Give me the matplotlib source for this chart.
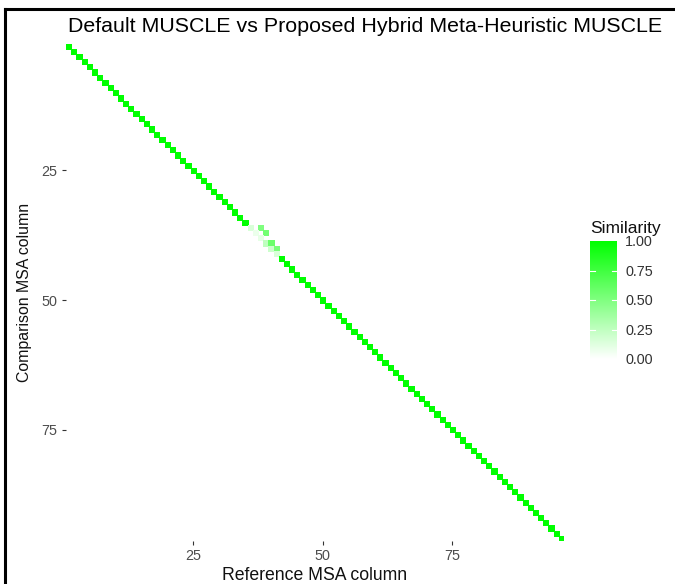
import numpy as np
import matplotlib
matplotlib.use("Agg")
import matplotlib.pyplot as plt
from matplotlib.colors import LinearSegmentedColormap
from matplotlib.lines import Line2D

plt.rcParams['font.family'] = ['Liberation Sans', 'DejaVu Sans']

# alignment columns: every reference column maps onto the same comparison column
n_cols = 96
ref_col = np.arange(1, n_cols + 1)
comp_col = np.arange(1, n_cols + 1)
diag_sim = np.ones(n_cols)

# columns where the two alignments disagree
weak_cols = [36, 37, 38, 39, 40, 41]
weak_sim = [0.15, 0.08, 0.10, 0.25, 0.20, 0.15]

# shifted matches (reference column, comparison column, similarity)
shift_ref = [38, 39, 40, 41]
shift_comp = [36, 37, 39, 40]
shift_sim = [0.50, 0.55, 0.58, 0.52]

grid = np.full((n_cols, n_cols), np.nan)
for c, s in zip(weak_cols, weak_sim):
    diag_sim[c - 1] = s
grid[comp_col - 1, ref_col - 1] = diag_sim
for r, c, s in zip(shift_ref, shift_comp, shift_sim):
    grid[c - 1, r - 1] = s

cmap = LinearSegmentedColormap.from_list('sim', ['#FFFFFF', '#00FF00'])

fig = plt.figure(figsize=(6.75, 5.84), dpi=100)
ax = fig.add_axes([66 / 675, 1 - 541 / 584, 498 / 675, 497.5 / 584])

edges = np.arange(0.5, n_cols + 1.5)
mesh = ax.pcolormesh(edges, edges, np.ma.masked_invalid(grid), cmap=cmap,
                     vmin=0, vmax=1, edgecolors='face', linewidth=0.4)
ax.set_xlim(0.5, n_cols + 0.5)
ax.set_ylim(n_cols + 0.5, 0.5)
ax.set_xticks([25, 50, 75])
ax.set_yticks([25, 50, 75])
for s in ax.spines.values():
    s.set_visible(False)
ax.tick_params(length=3, width=0.8, color='#333333', labelcolor='#4D4D4D',
               labelsize=10.4, pad=3)
ax.set_xlabel('Reference MSA column', fontsize=12.7, color='#111111', labelpad=3)
ax.set_ylabel('Comparison MSA column', fontsize=11.4, color='#111111', labelpad=7)
fig.text(68 / 675, 1 - 26 / 584, 'Default MUSCLE vs Proposed Hybrid Meta-Heuristic MUSCLE',
         fontsize=15.4, color='black', ha='left', va='center')

# legend bar
cax = fig.add_axes([590 / 675, 1 - 359 / 584, 27 / 675, 118 / 584])
cb = fig.colorbar(mesh, cax=cax, ticks=[0, 0.25, 0.5, 0.75, 1.0])
cb.outline.set_visible(False)
cb.ax.set_yticklabels(['0.00', '0.25', '0.50', '0.75', '1.00'])
cb.ax.tick_params(length=0, labelsize=10.4, labelcolor='#333333', pad=6)
for v in [0.25, 0.5, 0.75]:
    cb.ax.plot([0, 0.2], [v, v], color='white', lw=0.8, transform=cb.ax.get_yaxis_transform())
    cb.ax.plot([0.8, 1.0], [v, v], color='white', lw=0.8, transform=cb.ax.get_yaxis_transform())
fig.text(590 / 675, 1 - 229 / 584, 'Similarity', fontsize=12.5, color='#111111',
         ha='left', va='center')

# frame edges along the top and left
fig.add_artist(Line2D([5 / 675, 1], [1 - 8.5 / 584, 1 - 8.5 / 584],
                      transform=fig.transFigure, color='black', lw=2.2))
fig.add_artist(Line2D([5.5 / 675, 5.5 / 675], [0, 1 - 8.5 / 584],
                      transform=fig.transFigure, color='black', lw=2.2))

fig.savefig('out.png', dpi=100)
